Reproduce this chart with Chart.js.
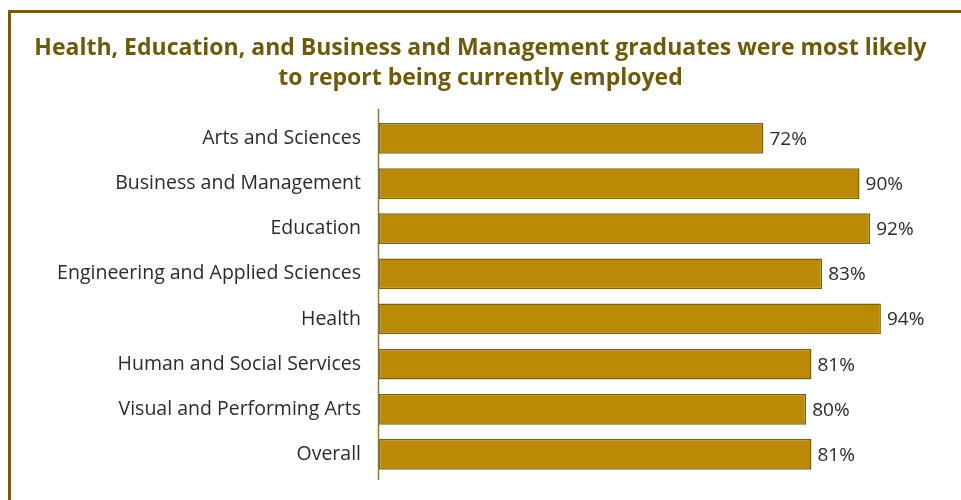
<!DOCTYPE html>
<html>
<head>
<meta charset="utf-8">
<script src="https://cdn.jsdelivr.net/npm/chart.js@4/dist/chart.umd.min.js"></script>
<style>
  html, body { margin: 0; padding: 0; background: #fff; }
  #wrap { position: relative; width: 961px; height: 500px; overflow: hidden; }
  #frame { position: absolute; left: 8px; top: 10px; width: 1000px; height: 600px;
           border-top: 3px solid #735c0a; border-left: 3px solid #735c0a; box-sizing: border-box; }
  canvas { position: absolute; left: 0; top: 0; }
</style>
</head>
<body>
<div id="wrap">
  <div id="frame"></div>
  <canvas id="chart" width="961" height="500"></canvas>
</div>
<script>
const categories = [
  'Arts and Sciences',
  'Business and Management',
  'Education',
  'Engineering and Applied Sciences',
  'Health',
  'Human and Social Services',
  'Visual and Performing Arts',
  'Overall'
];
const employedPct = [72, 90, 92, 83, 94, 81, 80, 81];

const titleLines = [
  'Health, Education, and Business and Management graduates were most likely',
  'to report being currently employed'
];

// vertical axis line that runs a little past the bars at both ends
const axisLine = {
  id: 'axisLine',
  afterDatasetsDraw(chart) {
    const { ctx, chartArea } = chart;
    ctx.save();
    ctx.strokeStyle = '#8c7a3c';
    ctx.lineWidth = 1.5;
    ctx.beginPath();
    ctx.moveTo(chartArea.left - 0.5, chartArea.top - 7);
    ctx.lineTo(chartArea.left - 0.5, chartArea.bottom + 3);
    ctx.stroke();
    ctx.restore();
  }
};

// percentage labels at the end of each bar
const valueLabels = {
  id: 'valueLabels',
  afterDatasetsDraw(chart) {
    const { ctx } = chart;
    const meta = chart.getDatasetMeta(0);
    ctx.save();
    ctx.font = '19px "Open Sans", sans-serif';
    ctx.fillStyle = '#2b2b2b';
    ctx.textAlign = 'left';
    ctx.textBaseline = 'middle';
    meta.data.forEach((bar, i) => {
      ctx.fillText(employedPct[i] + '%', bar.x + 6, bar.y + 1);
    });
    ctx.restore();
  }
};

new Chart(document.getElementById('chart'), {
  type: 'bar',
  data: {
    labels: categories,
    datasets: [{
      data: employedPct,
      backgroundColor: '#ba8a07',
      borderColor: '#7a6210',
      borderWidth: 1.5,
      borderSkipped: false,
      barPercentage: 0.68,
      categoryPercentage: 1.0
    }]
  },
  options: {
    indexAxis: 'y',
    responsive: false,
    animation: false,
    layout: { padding: { top: 20, right: 0, bottom: 23, left: 0 } },
    plugins: {
      legend: { display: false },
      tooltip: { enabled: false },
      title: {
        display: true,
        text: titleLines,
        color: '#6e5a0c',
        font: { family: '"Open Sans", sans-serif', size: 23, weight: 'bold', lineHeight: 1.3 },
        padding: { top: 14, bottom: 22 }
      }
    },
    scales: {
      x: {
        display: false,
        min: 0,
        max: 109
      },
      y: {
        afterFit(scale) {
          scale.width = 379;
          scale.paddingTop = 0;
          scale.paddingBottom = 0;
        },
        border: { display: false },
        grid: { display: false, drawTicks: false },
        ticks: {
          padding: 18,
          color: '#2b2b2b',
          font: { family: '"Open Sans", sans-serif', size: 19.5 }
        }
      }
    }
  },
  plugins: [axisLine, valueLabels]
});
</script>
</body>
</html>
